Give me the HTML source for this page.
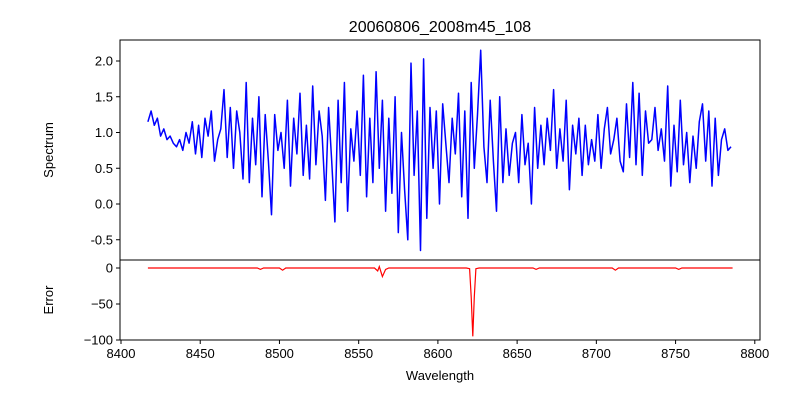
<!DOCTYPE html>
<html><head><meta charset="utf-8"><style>
body{margin:0;background:#fff;}
svg text{font-family:"Liberation Sans","DejaVu Sans",sans-serif;fill:#000;}
</style></head><body>
<svg id="c" width="800" height="400" xmlns="http://www.w3.org/2000/svg">
<rect width="800" height="400" fill="#fff"/>
<text x="440" y="32" font-size="16" text-anchor="middle">20060806_2008m45_108</text>
<g id="topg"></g><g id="botg"></g>
<text x="440" y="380" font-size="13" text-anchor="middle">Wavelength</text>
<text transform="translate(53,150) rotate(-90)" font-size="13" text-anchor="middle">Spectrum</text>
<text transform="translate(53,300) rotate(-90)" font-size="13" text-anchor="middle">Error</text>
</svg>
<script>
const specStart = 8417;
const specStep = 2;
const specValues = [1.15,1.3,1.1,1.2,0.95,1.05,0.9,0.95,0.85,0.8,
0.9,0.75,1.0,0.85,1.15,0.7,1.1,0.65,1.2,0.95,
1.3,0.6,0.9,1.05,1.6,0.65,1.35,0.5,1.3,1.0,
0.35,1.7,0.3,1.2,0.55,1.5,0.1,1.25,0.6,-0.15,
1.25,0.75,1.0,0.5,1.45,0.25,1.2,0.7,1.55,0.4,
1.1,0.35,1.65,0.55,1.3,0.95,0.05,1.35,0.6,-0.25,
1.45,0.3,1.7,-0.1,1.05,0.6,1.3,0.4,1.8,0.1,
1.2,0.3,1.85,0.5,1.45,-0.1,1.2,0.15,1.5,-0.4,
1.0,0.2,-0.5,1.97,0.4,1.3,-0.65,2.03,-0.2,1.35,
0.5,1.3,0.0,1.4,0.85,0.3,1.2,0.7,1.55,0.1,
1.3,-0.2,1.7,0.5,1.25,2.15,0.8,0.3,1.45,0.6,
-0.1,1.5,0.3,1.05,0.4,0.85,1.0,0.3,1.25,0.55,
0.85,0.0,1.35,0.5,1.1,0.55,1.2,0.75,1.6,0.5,
1.05,0.6,1.45,0.2,1.1,0.7,1.2,0.4,1.1,0.55,
0.9,0.6,1.25,0.5,1.05,1.35,0.7,0.9,1.2,0.6,
0.45,1.4,0.65,1.7,0.55,1.55,0.4,1.3,0.85,0.9,
1.35,0.75,1.05,0.6,1.65,0.25,1.1,0.45,1.45,0.55,
1.0,0.3,0.95,0.5,1.15,1.4,0.6,1.3,0.25,1.2,
0.4,0.9,1.05,0.75,0.8];
const errWave = [8417,8486,8488,8490,8500,8502,8504,8560,8562,8563,8565,8567,8569,8618,8620,8621,8622,8623,8624,8626,8660,8662,8664,8710,8712,8714,8750,8752,8754,8786];
const errVal  = [0,0,-2,0,0,-3,0,0,-4,2,-12,-2,0,0,-1,-40,-95,-40,-1,0,0,-2,0,0,-3,0,0,-2,0,0];
const xTicks = [8400,8450,8500,8550,8600,8650,8700,8750,8800];
const topTicks = [-0.5,0.0,0.5,1.0,1.5,2.0];
const botTicks = [0,-50,-100];

const L=120,R=760,T1=40,B1=260,B2=340;
const X=w=>121+(w-8400)*1.5845;
const Y1=v=>204-v*71.5;
const Y2=v=>268-v*0.72;
const NS='http://www.w3.org/2000/svg';
function mk(p,t,a){const e=document.createElementNS(NS,t);for(const k in a)e.setAttribute(k,a[k]);p.appendChild(e);return e;}
const gTop=document.getElementById('topg'),gBot=document.getElementById('botg');
let d='';
specValues.forEach((v,i)=>{d+=(i?'L':'M')+X(specStart+i*specStep).toFixed(1)+','+Y1(v).toFixed(1);});
const sp=mk(gTop,'path',{d:d,fill:'none',stroke:'#0000ff','stroke-width':1.5,'stroke-linejoin':'round'});


let d2='';
errWave.forEach((w,i)=>{d2+=(i?'L':'M')+X(w).toFixed(1)+','+Y2(errVal[i]).toFixed(1);});
const er=mk(gBot,'path',{d:d2,fill:'none',stroke:'#ff0000','stroke-width':1.2});


const f1=mk(gTop,'rect',{x:L,y:T1,width:R-L,height:B1-T1,fill:'none',stroke:'#000','stroke-width':1});


const f2=mk(gBot,'rect',{x:L,y:B1,width:R-L,height:B2-B1,fill:'none',stroke:'#000','stroke-width':1});


topTicks.forEach(v=>{const y=Y1(v);mk(gTop,'line',{x1:L-4,x2:L,y1:y,y2:y,stroke:'#000'});
const t=mk(gTop,'text',{x:L-7,y:y+4.5,'font-size':13,'text-anchor':'end'});t.textContent=v.toFixed(1);

});
botTicks.forEach(v=>{const y=Y2(v);mk(gBot,'line',{x1:L-4,x2:L,y1:y,y2:y,stroke:'#000'});
const t=mk(gBot,'text',{x:L-7,y:y+4.5,'font-size':13,'text-anchor':'end'});t.textContent=String(v).replace('-','\u2212');

});
xTicks.forEach(w=>{const x=X(w);mk(gBot,'line',{x1:x,x2:x,y1:B2,y2:B2+4,stroke:'#000'});
const t=mk(gBot,'text',{x:x,y:B2+18,'font-size':13,'text-anchor':'middle'});t.textContent=w;

});
</script>
</body></html>
